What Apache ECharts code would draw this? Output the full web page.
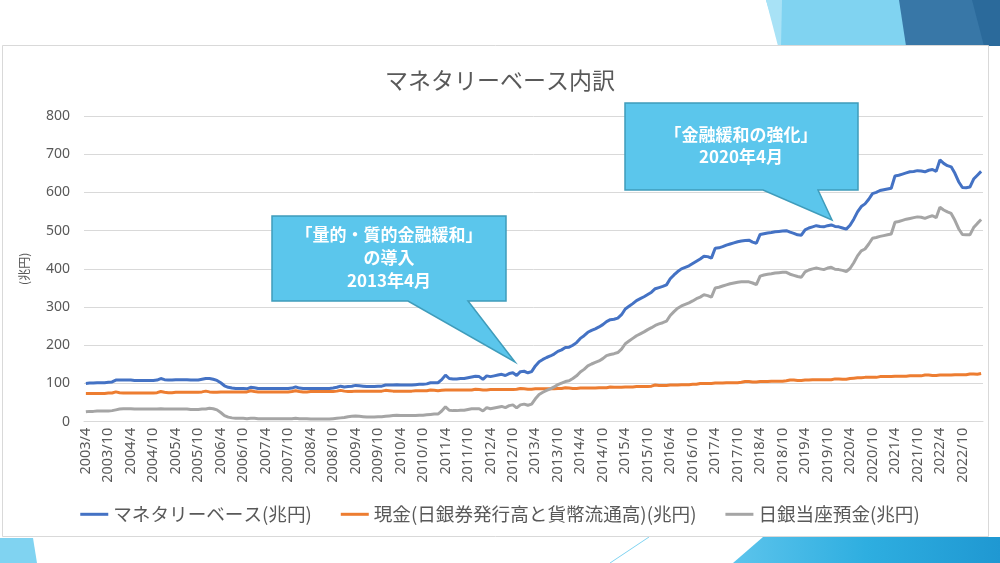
<!DOCTYPE html>
<html>
<head>
<meta charset="utf-8">
<script src="https://cdn.jsdelivr.net/npm/echarts@6/dist/echarts.min.js"></script>
<style>
html,body{margin:0;padding:0;background:#fff;}
#chart{width:1000px;height:563px;}
</style>
</head>
<body>
<div id="chart"></div>
<script>
// ---- data (monthly, 2003/4 .. 2023/3) ----
const startYear = 2003;
const startMonth = 4;
const monthCount = 240;

const seriesNames = ['マネタリーベース(兆円)', '現金(日銀券発行高と貨幣流通高)(兆円)', '日銀当座預金(兆円)'];

const monetaryBase = [
  100,101,101,102,102,102,103,104,109,
  109,109,109,109,108,108,108,108,108,108,109,113,
  110,109,109,110,110,110,110,109,109,109,111,113,
  113,111,108,102,94,90,88,87,87,87,86,90,
  89,87,87,87,87,87,87,87,87,87,88,91,
  88,87,87,87,87,87,87,87,87,88,90,93,
  91,92,93,95,94,93,92,92,92,93,93,96,
  96,96,97,96,96,96,96,97,98,98,99,102,
  102,102,110,122,113,112,112,113,113,115,117,119,
  118,111,120,118,120,122,124,121,126,128,121,131,
  132,128,131,146,157,163,168,172,177,184,188,194,
  195,200,207,218,225,234,239,243,248,254,262,267,
  268,271,280,295,302,309,317,322,327,333,339,348,
  351,354,358,374,384,393,400,404,408,414,420,426,
  433,432,428,454,455,458,462,465,468,471,473,474,
  475,470,467,490,492,494,495,497,498,499,500,496,
  493,489,488,502,507,510,513,511,510,513,515,511,
  510,507,504,514,530,549,563,570,582,597,600,605,
  607,609,611,643,645,648,651,654,655,657,656,654,
  658,660,655,685,676,670,667,650,628,613,612,614,
  635,645,655
];

const cash = [
  74,74,74,74,74,74,75,75,78,
  76,75,75,75,75,75,75,75,75,75,76,79,
  77,76,76,77,77,77,77,77,77,77,78,80,
  78,77,77,78,78,78,78,78,78,78,78,81,
  79,78,78,78,78,78,78,78,78,78,79,81,
  79,78,78,79,79,79,79,79,79,79,80,82,
  80,79,79,80,80,80,80,80,80,80,80,82,
  81,80,80,80,80,80,80,81,81,81,81,83,
  82,81,82,83,83,83,83,83,83,83,83,85,
  84,83,83,84,84,84,84,84,84,84,85,87,
  86,85,85,86,86,86,86,86,86,87,87,89,
  88,87,87,88,88,88,88,88,89,89,89,91,
  90,90,90,91,91,91,92,92,92,92,93,96,
  95,95,95,96,96,96,97,97,97,98,98,100,
  100,100,100,101,101,101,102,102,102,102,103,105,
  105,104,104,105,105,105,106,106,106,106,107,109,
  109,108,108,109,109,110,110,110,110,110,110,112,
  112,111,111,113,114,115,115,116,116,116,116,118,
  118,118,118,119,119,119,119,120,120,120,120,122,
  122,121,121,122,122,122,122,123,123,123,123,125,
  125,124,126
];

const currentAccount = [
  26,27,27,28,28,28,28,29,31,
  33,34,34,34,33,33,33,33,33,33,33,34,
  33,33,33,33,33,33,33,32,32,32,33,33,
  35,34,31,24,16,12,10,9,9,9,8,9,
  9,8,8,8,8,8,8,8,8,8,8,9,
  8,8,8,7,7,7,7,7,7,8,9,10,
  11,13,14,15,14,13,12,12,12,13,13,14,
  15,16,17,16,16,16,16,16,17,17,18,19,
  20,20,28,39,30,29,29,30,30,32,34,34,
  34,28,37,34,36,38,40,37,42,44,36,44,
  46,43,46,60,71,77,82,86,91,97,101,105,
  107,113,120,130,137,146,151,155,159,165,173,176,
  178,181,190,204,211,218,225,230,235,241,246,252,
  256,259,263,278,288,297,303,307,311,316,322,326,
  332,330,326,350,352,355,358,361,363,365,366,366,
  366,363,359,381,384,386,387,389,390,391,391,386,
  383,380,378,392,397,400,402,400,398,402,404,399,
  398,396,393,401,416,434,447,452,465,480,482,485,
  487,489,491,522,524,527,530,532,534,536,535,532,
  536,539,534,561,554,549,545,527,505,490,489,489,
  508,519,529
];

const yTicks = { min: 0, max: 800, interval: 100 };

// category labels
const categories = [];
for (let k = 0; k < monthCount; k++) {
  const m0 = startMonth - 1 + k;
  categories.push((startYear + Math.floor(m0 / 12)) + '/' + (m0 % 12 + 1));
}

const callout1Text = '「量的・質的金融緩和」\nの導入\n2013年4月';
const callout2Text = '「金融緩和の強化」\n2020年4月';

// ---- chart ----
const JP = '"Noto Sans CJK JP", "Noto Sans", sans-serif';
const TXT = '#595959';
const chart = echarts.init(document.getElementById('chart'), null, { renderer: 'canvas' });

const calloutFill = '#5BC6EC';
const calloutStroke = '#3F9CBB';

chart.setOption({
  animation: false,
  backgroundColor: '#ffffff',
  title: {
    text: 'マネタリーベース内訳',
    left: 'center',
    top: 64,
    textStyle: { fontFamily: JP, fontSize: 23, fontWeight: 'normal', color: TXT }
  },
  legend: {
    data: seriesNames,
    left: 'center',
    top: 500,
    icon: 'rect',
    itemWidth: 28,
    itemHeight: 3,
    itemGap: 29,
    textStyle: { fontFamily: JP, fontSize: 18.6, color: TXT }
  },
  grid: { left: 84, right: 17, top: 116, bottom: 141.3 },
  xAxis: {
    type: 'category',
    data: categories,
    boundaryGap: true,
    axisLine: { lineStyle: { color: '#d9d9d9', width: 1 } },
    axisTick: { show: false },
    axisLabel: {
      interval: 5,
      rotate: 90,
      margin: 6,
      fontFamily: '"Noto Sans", sans-serif',
      fontSize: 14.5,
      color: TXT,
      hideOverlap: false
    }
  },
  yAxis: {
    type: 'value',
    min: yTicks.min,
    max: yTicks.max,
    interval: yTicks.interval,
    name: '(兆円)',
    nameLocation: 'middle',
    nameGap: 54,
    nameTextStyle: { fontFamily: JP, fontSize: 12, color: TXT },
    axisLine: { show: false },
    axisTick: { show: false },
    axisLabel: { fontFamily: '"Noto Sans", sans-serif', fontSize: 14, color: TXT, margin: 14 },
    splitLine: { lineStyle: { color: '#d9d9d9', width: 1 } }
  },
  series: [
    { name: seriesNames[0], type: 'line', data: monetaryBase, showSymbol: false, symbol: 'none',
      lineStyle: { color: '#4472C4', width: 3 }, itemStyle: { color: '#4472C4' } },
    { name: seriesNames[1], type: 'line', data: cash, showSymbol: false, symbol: 'none',
      lineStyle: { color: '#ED7D31', width: 3 }, itemStyle: { color: '#ED7D31' } },
    { name: seriesNames[2], type: 'line', data: currentAccount, showSymbol: false, symbol: 'none',
      lineStyle: { color: '#A5A5A5', width: 3 }, itemStyle: { color: '#A5A5A5' } }
  ],
  graphic: [
    // slide decoration (top right)
    { type: 'polygon', z: -30, silent: true, shape: { points: [[766,0],[1000,0],[1000,46],[780,46]] }, style: { fill: '#80D3F1' } },
    { type: 'polygon', z: -29, silent: true, shape: { points: [[766,0],[782,0],[781,46],[778,46]] }, style: { fill: '#A8E2F6' } },
    { type: 'polygon', z: -28, silent: true, shape: { points: [[899,0],[1000,0],[1000,46],[906,46]] }, style: { fill: '#3877A7' } },
    { type: 'polygon', z: -27, silent: true, shape: { points: [[972,0],[1000,0],[1000,46],[984,46]] }, style: { fill: '#2B6A9B' } },
    // slide decoration (bottom)
    { type: 'polygon', z: -30, silent: true, shape: { points: [[0,538],[33,538],[37,563],[0,563]] }, style: { fill: '#80D3F1' } },
    { type: 'polygon', z: -30, silent: true, shape: { points: [[763,537],[1000,537],[1000,563],[733,563]] },
      style: { fill: new echarts.graphic.LinearGradient(0, 0, 1, 0, [
        { offset: 0, color: '#5CC4EC' }, { offset: 0.5, color: '#2EAEE0' }, { offset: 1, color: '#1F98D2' }]) } },
    { type: 'line', z: -30, silent: true, shape: { x1: 610, y1: 563, x2: 649, y2: 537 }, style: { stroke: '#80D3F1', lineWidth: 1 } },
    // chart box
    { type: 'rect', z: -20, silent: true, shape: { x: 2.5, y: 45.5, width: 986, height: 491 },
      style: { fill: '#ffffff', stroke: '#d9d9d9', lineWidth: 1 } },
    // callout 1
    { type: 'polygon', z: 100, silent: true,
      shape: { points: [[272,216],[506,216],[506,301],[468,301],[515,362],[408,301],[272,301]] },
      style: { fill: calloutFill, stroke: calloutStroke, lineWidth: 1.5 } },
    { type: 'text', z: 101, silent: true, x: 389, y: 258,
      style: { text: callout1Text, fill: '#ffffff', font: 'bold 17px "Noto Sans CJK JP"', align: 'center', verticalAlign: 'middle', lineHeight: 23 } },
    // callout 2
    { type: 'polygon', z: 100, silent: true,
      shape: { points: [[625,103],[858,103],[858,190],[818,190],[832,220],[763,190],[625,190]] },
      style: { fill: calloutFill, stroke: calloutStroke, lineWidth: 1.5 } },
    { type: 'text', z: 101, silent: true, x: 741, y: 146,
      style: { text: callout2Text, fill: '#ffffff', font: 'bold 17px "Noto Sans CJK JP"', align: 'center', verticalAlign: 'middle', lineHeight: 22 } }
  ]
});
</script>
</body>
</html>
